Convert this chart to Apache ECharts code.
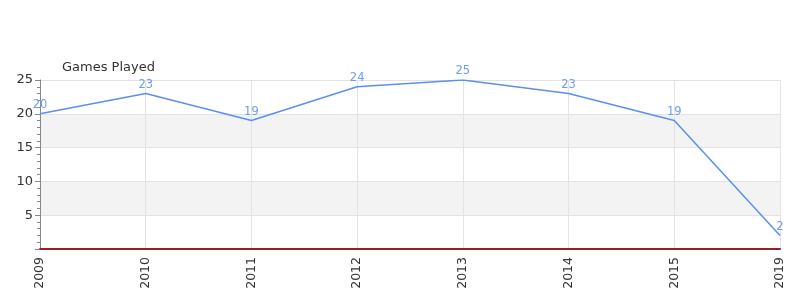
<!DOCTYPE html>
<html><head><meta charset="utf-8">
<script src="https://cdn.jsdelivr.net/npm/echarts@6/dist/echarts.min.js"></script>
<style>html,body{margin:0;padding:0;background:#fff}#c{width:800px;height:300px}</style>
</head><body><div id="c"></div>
<script>
var categories = ['2009','2010','2011','2012','2013','2014','2015','2019'];
var gamesPlayed = [20,23,19,24,25,23,19,2];
var yTicks = [0,5,10,15,20,25];
var chart = echarts.init(document.getElementById('c'), null, {renderer:'canvas'});
chart.setOption({
  animation:false,
  title:{text:'Games Played', left:57, top:56, textStyle:{fontSize:13, fontWeight:'normal', color:'#333', fontFamily:'DejaVu Sans'}},
  grid:{left:40, right:20, top:80, bottom:51},
  xAxis:{type:'category', data:categories, boundaryGap:false,
    axisLine:{lineStyle:{color:'#444', width:2}},
    axisTick:{show:false},
    axisLabel:{rotate:90, color:'#333', fontSize:12.5, fontFamily:'DejaVu Sans', margin:8},
    splitLine:{show:true, lineStyle:{color:'#e3e3e3'}}},
  yAxis:{type:'value', min:yTicks[0], max:yTicks[yTicks.length-1], interval:5,
    axisLine:{show:true, lineStyle:{color:'#888'}},
    axisTick:{show:true, length:5, lineStyle:{color:'#888'}},
    minorTick:{show:true, splitNumber:5, length:3, lineStyle:{color:'#888'}},
    axisLabel:{color:'#333', fontSize:13, fontFamily:'DejaVu Sans', margin:7,
      formatter:function(v){return v===0?'':v;}},
    splitLine:{show:true, lineStyle:{color:'#e3e3e3'}},
    splitArea:{show:true, areaStyle:{color:['#ffffff','#f3f3f3']}}},
  series:[{type:'line', data:gamesPlayed, showSymbol:true, symbol:'circle', symbolSize:1,
    itemStyle:{color:'rgba(0,0,0,0)', borderWidth:0},
    lineStyle:{color:'#5b8ff0', width:1.5},
    label:{show:true, position:'top', color:'#6d9cf0', fontSize:11.5, fontFamily:'DejaVu Sans', distance:2},
    markLine:{silent:true, symbol:'none', label:{show:false},
      lineStyle:{color:'#e00000', type:'solid', width:1},
      data:[{yAxis:0}]}
  }]
});
</script></body></html>
